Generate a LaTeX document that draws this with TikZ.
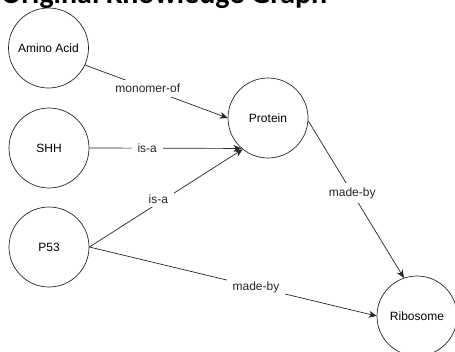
\documentclass[tikz,border=0pt]{standalone}
\usepackage{fontspec}
\setmainfont{Liberation Sans}
\newfontfamily\titlefont{Carlito}
\usetikzlibrary{arrows.meta}
\tikzset{
    concept/.style={circle, draw=black!85, line width=0.7pt, minimum size=80pt,
        inner sep=0pt, font=\fontsize{12}{14}\selectfont},
    relation/.style={draw=black!85, line width=0.7pt, -{Stealth[length=8pt,width=7pt]}},
    rellabel/.style={fill=white, inner xsep=6pt, inner ysep=4pt,
        font=\fontsize{12}{14}\selectfont, text=black!85}
}

\begin{document}
\begin{tikzpicture}[x=1pt,y=-1pt]
\useasboundingbox (0,0) rectangle (455,351);
\clip (0,0) rectangle (455,351);

\node[anchor=base west, inner sep=0pt, font=\titlefont\bfseries\fontsize{30}{36}\selectfont]
  (title) at (1,3) {Original Knowledge Graph};

\node[concept] (amino) at (48.5,48) {Amino Acid};
\node[concept] (shh) at (49,148) {SHH};
\node[concept] (p53) at (49,247) {P53};
\node[concept] (protein) at (268,118) {Protein};
\node[concept] (ribosome) at (417,316) {Ribosome};

\draw[relation] (amino.335) -- node[rellabel, pos=0.44] {monomer-of} (protein.west);
\draw[relation] (shh.east) -- node[rellabel, pos=0.38] {is-a} (protein.229);
\draw[relation] (p53.east) -- node[rellabel, pos=0.45, yshift=4pt] {is-a} (protein.231);
\draw[relation] (protein.356) -- node[rellabel, pos=0.46] {made-by} (ribosome.109);
\draw[relation] (p53.east) -- node[rellabel, pos=0.58] {made-by} (ribosome.west);
\end{tikzpicture}
\end{document}
